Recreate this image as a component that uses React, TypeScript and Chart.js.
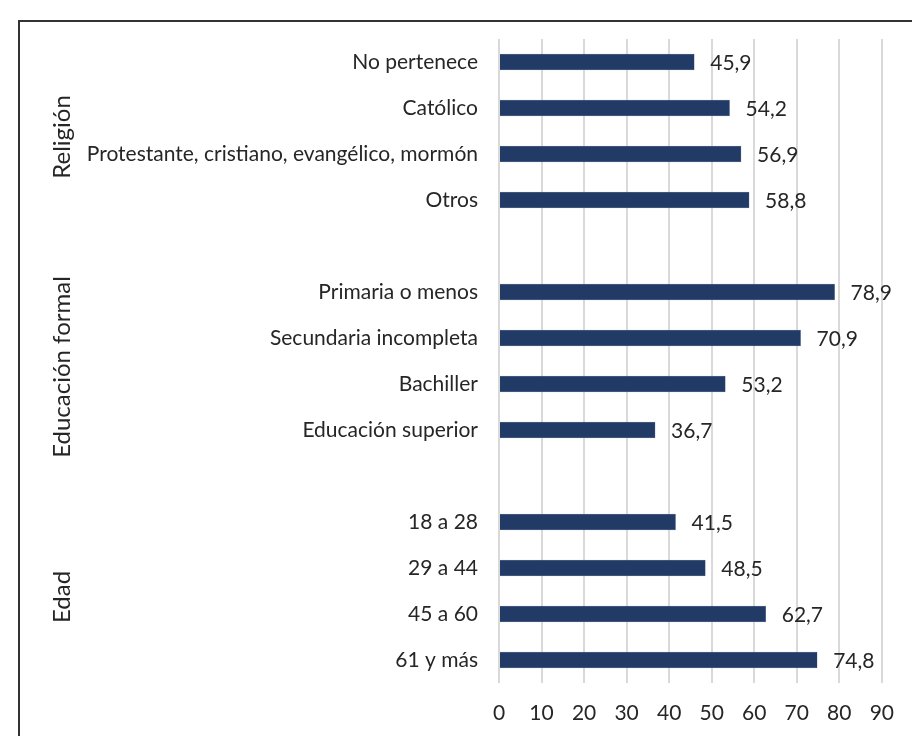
import React, { useEffect, useRef } from "react";
import { Chart, registerables } from "chart.js";

Chart.register(...registerables);

const categories = [
  "No pertenece",
  "Católico",
  "Protestante, cristiano, evangélico, mormón",
  "Otros",
  "",
  "Primaria o menos",
  "Secundaria incompleta",
  "Bachiller",
  "Educación superior",
  " ",
  "18 a 28",
  "29 a 44",
  "45 a 60",
  "61 y más",
];

const values: (number | null)[] = [
  45.9, 54.2, 56.9, 58.8, null, 78.9, 70.9, 53.2, 36.7, null, 41.5, 48.5, 62.7, 74.8,
];

const groups = [
  { label: "Religión", from: 0, to: 3 },
  { label: "Educación formal", from: 5, to: 8 },
  { label: "Edad", from: 10, to: 13 },
];

const FONT = "Lato, 'Open Sans', sans-serif";
const TEXT = "#262626";

export default function App() {
  const ref = useRef<HTMLCanvasElement>(null);

  useEffect(() => {
    if (!ref.current) return;

    const framePlugin = {
      id: "frame",
      beforeDraw(chart: any) {
        const ctx = chart.ctx;
        ctx.save();
        ctx.fillStyle = "#ffffff";
        ctx.fillRect(0, 0, chart.width, chart.height);
        ctx.strokeStyle = "#333333";
        ctx.lineWidth = 2;
        ctx.beginPath();
        ctx.moveTo(19, chart.height);
        ctx.lineTo(19, 21);
        ctx.lineTo(chart.width, 21);
        ctx.stroke();
        ctx.restore();
      },
    };

    const labelsPlugin = {
      id: "valueLabels",
      afterDatasetsDraw(chart: any) {
        const ctx = chart.ctx;
        const meta = chart.getDatasetMeta(0);
        ctx.save();
        ctx.font = `21px ${FONT}`;
        ctx.fillStyle = TEXT;
        ctx.textAlign = "left";
        ctx.textBaseline = "middle";
        meta.data.forEach((bar: any, i: number) => {
          const v = values[i];
          if (v === null || v === undefined) return;
          ctx.fillText(v.toFixed(1).replace(".", ","), bar.x + 16, bar.y + 1);
        });
        // group labels
        const y = chart.scales.y;
        ctx.font = `24px ${FONT}`;
        ctx.textAlign = "center";
        groups.forEach((g) => {
          const cy = (y.getPixelForValue(g.from) + y.getPixelForValue(g.to)) / 2;
          ctx.save();
          ctx.translate(62, cy + 6);
          ctx.rotate(-Math.PI / 2);
          ctx.fillText(g.label, 0, 0);
          ctx.restore();
        });
        ctx.restore();
      },
    };

    const chart = new Chart(ref.current, {
      type: "bar",
      data: {
        labels: categories,
        datasets: [
          {
            data: values,
            backgroundColor: "#223a66",
            borderColor: "#7f8fab",
            borderWidth: 0.5,
            barThickness: 16,
          },
        ],
      },
      options: {
        indexAxis: "y",
        animation: false,
        responsive: false,
        layout: { padding: { left: 0, right: 29, top: 39, bottom: 0 } },
        plugins: { legend: { display: false }, tooltip: { enabled: false } },
        scales: {
          x: {
            min: 0,
            max: 90,
            ticks: {
              stepSize: 10,
              padding: 18,
              color: TEXT,
              font: { family: FONT, size: 21 },
            },
            grid: { color: "#d9d9d9", lineWidth: 2, drawTicks: false },
            border: { display: false },
            afterFit(s: any) {
              s.height = 53;
            },
          },
          y: {
            ticks: {
              padding: 21,
              color: TEXT,
              font: { family: FONT, size: 21 },
              autoSkip: false,
            },
            grid: { display: false, drawTicks: false },
            border: { display: false },
            afterFit(s: any) {
              s.width = 499;
            },
          },
        },
      },
      plugins: [framePlugin, labelsPlugin],
    });
    return () => chart.destroy();
  }, []);

  return (
    <div style={{ position: "fixed", left: 0, top: 0, width: 912, height: 736 }}>
      <canvas ref={ref} width={912} height={736} style={{ display: "block" }} />
    </div>
  );
}
